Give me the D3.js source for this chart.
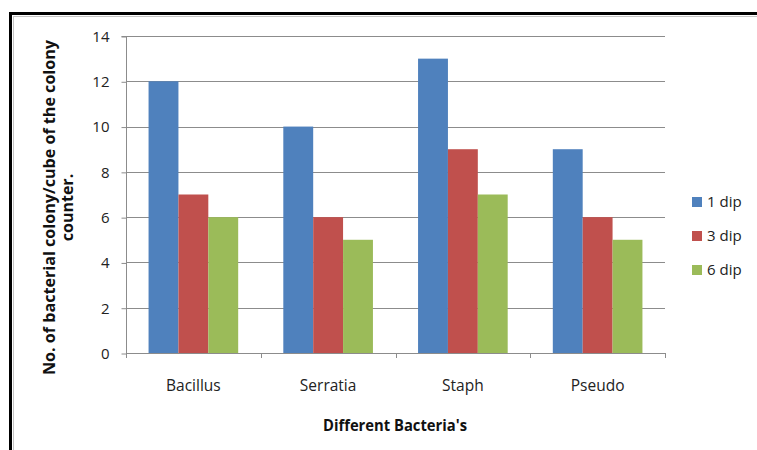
<!DOCTYPE html>
<html>
<head>
<meta charset="utf-8">
<script src="https://cdn.jsdelivr.net/npm/d3@7"></script>
<style>
  html, body { margin: 0; padding: 0; background: #fff; }
  svg { display: block; font-family: "Open Sans", Lato, sans-serif; }
</style>
</head>
<body>
<svg id="chart" width="757" height="450"></svg>
<script>
// Colony counts per bacterium for each dip count
const categories = ["Bacillus", "Serratia", "Staph", "Pseudo"];
const seriesNames = ["1 dip", "3 dip", "6 dip"];
const dip1 = [12, 10, 13, 9];
const dip3 = [7, 6, 9, 6];
const dip6 = [6, 5, 7, 5];
const yTicks = [0, 2, 4, 6, 8, 10, 12, 14];
const colors = ["#4F81BD", "#C0504D", "#9BBB59"];

const seriesValues = [dip1, dip3, dip6];
const FONT = "'Open Sans', Lato, sans-serif";

const svg = d3.select("#chart");

// Outer frame
svg.append("rect")
  .attr("x", 10.5).attr("y", 13.5).attr("width", 800).attr("height", 500)
  .attr("fill", "none").attr("stroke", "#000").attr("stroke-width", 3);
svg.append("rect")
  .attr("x", 13.5).attr("y", 16.5).attr("width", 800).attr("height", 500)
  .attr("fill", "none").attr("stroke", "#c4c4c4").attr("stroke-width", 1);

const plot = { left: 126, right: 665, top: 36, bottom: 353 };

const x = d3.scaleBand().domain(categories).range([plot.left, plot.right]).paddingInner(0).paddingOuter(0);
const y = d3.scaleLinear().domain([0, 14]).range([plot.bottom, plot.top]);
// three adjoining bars per category, gap of ~75% of a bar width on each side
const xInner = d3.scaleBand().domain(seriesNames)
  .range([0, x.bandwidth()]).paddingInner(0).paddingOuter(0.755);

// Horizontal gridlines
svg.append("g").selectAll("line").data(yTicks.filter(d => d > 0)).join("line")
  .attr("x1", plot.left).attr("x2", plot.right)
  .attr("y1", d => Math.round(y(d)) + 0.5).attr("y2", d => Math.round(y(d)) + 0.5)
  .attr("stroke", "#8c8c8c").attr("stroke-width", 1);

// Bars
seriesNames.forEach((name, si) => {
  svg.append("g").selectAll("rect").data(categories).join("rect")
    .attr("x", c => x(c) + xInner(name))
    .attr("width", xInner.bandwidth())
    .attr("y", (c, i) => y(seriesValues[si][i]))
    .attr("height", (c, i) => y(0) - y(seriesValues[si][i]))
    .attr("fill", colors[si]);
});

// Y axis
const yAxis = d3.axisLeft(y).tickValues(yTicks).tickSize(5).tickPadding(12);
const gy = svg.append("g").attr("transform", `translate(${plot.left + 0.5},0.5)`).call(yAxis);
gy.select(".domain").attr("stroke", "#8c8c8c").attr("d", `M-5,${plot.top}H0V${plot.bottom}`);
gy.selectAll(".tick line").attr("stroke", "#8c8c8c");
gy.selectAll(".tick text").attr("font-size", 15).attr("fill", "#222").attr("font-family", FONT);

// X axis
const xAxis = d3.axisBottom(x).tickSize(0).tickPadding(0);
const gx = svg.append("g").attr("transform", `translate(0,${plot.bottom + 0.5})`).call(xAxis);
gx.select(".domain").attr("stroke", "#8c8c8c").attr("d", `M${plot.left},0H${plot.right}`);
gx.selectAll(".tick text").attr("font-size", 15.5).attr("fill", "#222").attr("font-family", FONT)
  .attr("y", 390 - plot.bottom).attr("dy", null);
// Category boundary ticks
svg.append("g").selectAll("line").data(d3.range(categories.length + 1)).join("line")
  .attr("x1", i => Math.round(plot.left + i * x.bandwidth()) + 0.5)
  .attr("x2", i => Math.round(plot.left + i * x.bandwidth()) + 0.5)
  .attr("y1", plot.bottom).attr("y2", plot.bottom + 5)
  .attr("stroke", "#8c8c8c");

// Axis titles
svg.append("text")
  .attr("x", 395).attr("y", 431)
  .attr("text-anchor", "middle").attr("font-weight", "bold").attr("font-size", 16).attr("fill", "#111")
  .attr("textLength", 144).attr("lengthAdjust", "spacingAndGlyphs")
  .text("Different Bacteria's");

const yTitle = svg.append("text")
  .attr("transform", "translate(0,207.5) rotate(-90)")
  .attr("text-anchor", "middle").attr("font-weight", "bold").attr("font-size", 16).attr("fill", "#111");
yTitle.append("tspan").attr("x", 0).attr("y", 55)
  .attr("textLength", 335).attr("lengthAdjust", "spacingAndGlyphs")
  .text("No. of bacterial colony/cube of the colony");
yTitle.append("tspan").attr("x", 0).attr("y", 73).text("counter.");

// Legend
const legend = svg.append("g");
seriesNames.forEach((name, i) => {
  const ly = 197 + i * 34;
  legend.append("rect").attr("x", 692).attr("y", ly).attr("width", 10).attr("height", 10).attr("fill", colors[i]);
  legend.append("text").attr("x", 707).attr("y", ly + 10).attr("font-size", 15).attr("fill", "#222").text(name);
});
</script>
</body>
</html>
